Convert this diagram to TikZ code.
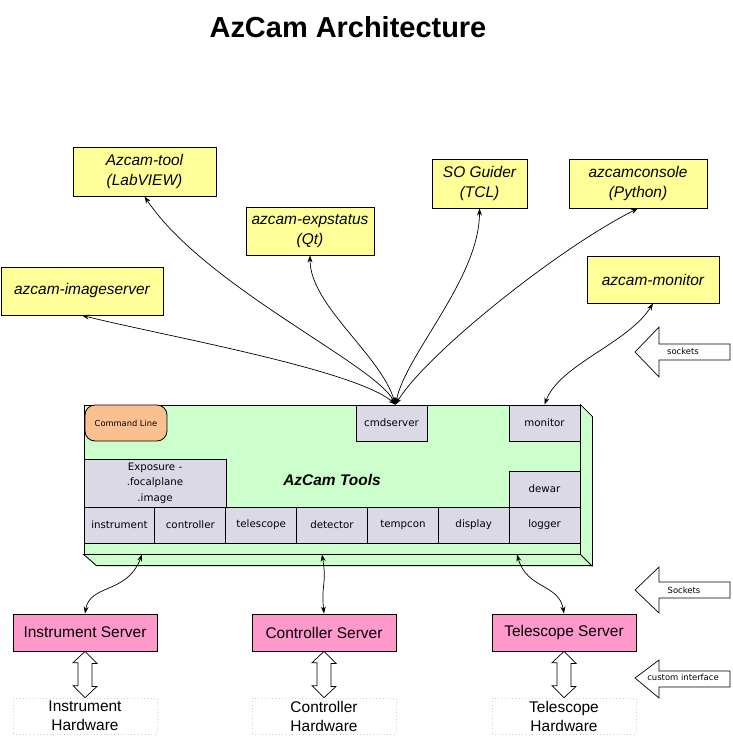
\documentclass[tikz,border=0pt]{standalone}
\usepackage{fontspec}
\setmainfont{Liberation Sans}
\newfontfamily\modfont{DejaVu Sans}
\usetikzlibrary{arrows.meta}
\definecolor{ylw}{RGB}{255,255,153}
\definecolor{tgreen}{RGB}{204,255,204}
\definecolor{pnk}{RGB}{255,153,204}
\definecolor{lav}{RGB}{220,217,230}
\definecolor{org}{RGB}{250,192,144}

\begin{document}
\begin{tikzpicture}[x=0.25mm, y=-0.25mm, >={Stealth[length=5pt,width=3.5pt]},
	ybox/.style={draw, line width=0.6pt, fill=ylw, inner sep=0pt, align=center, font=\itshape\fontsize{11}{14}\selectfont},
	server/.style={draw, line width=0.6pt, fill=pnk, minimum width=36mm, minimum height=9.25mm, font=\fontsize{11}{13}\selectfont},
	hwbox/.style={draw=gray!35, dotted, minimum width=36mm, minimum height=9mm, inner sep=0pt, align=center, font=\fontsize{11}{13.5}\selectfont},
	modbox/.style={draw, line width=0.6pt, fill=lav, minimum width=17.71mm, minimum height=9mm, inner sep=0pt, align=center, font=\modfont\fontsize{7.3}{11}\selectfont},
	link/.style={<->, line width=0.5pt},
	blockarrow/.style={draw, line width=0.5pt, fill=white},
	tag/.style={font=\modfont\fontsize{6}{7}\selectfont}]
	\useasboundingbox (0,0) rectangle (732,743);

	% titre
	\node[font=\bfseries\fontsize{20.6}{24}\selectfont] (title) at (348,27) {AzCam Architecture};

	% les clients
	\node[ybox, minimum width=35.75mm, minimum height=12.25mm] (tool) at (144.5,171.5) {Azcam-tool\\(LabVIEW)};
	\node[ybox, minimum width=32mm, minimum height=12mm] (exp) at (310,231) {azcam-expstatus\\(Qt)};
	\node[ybox, minimum width=40.5mm, minimum height=12mm] (imgsrv) at (82,291) {azcam-imageserver};
	\node[ybox, minimum width=23.75mm, minimum height=12.25mm] (guider) at (479.5,183.5) {SO Guider\\(TCL)};
	\node[ybox, minimum width=34.5mm, minimum height=12.25mm] (console) at (638,183.5) {azcamconsole\\(Python)};
	\node[ybox, minimum width=33mm, minimum height=11.75mm] (mon) at (653,279.5) {azcam-monitor};

	% le bloc AzCam Tools
	\node[draw, line width=0.6pt, fill=tgreen, minimum width=124mm, minimum height=37.25mm, font=\bfseries\itshape\fontsize{11}{13}\selectfont] (tools) at (332,479.5) {AzCam Tools};
	\draw[line width=0.6pt, fill=tgreen] (tools.north east) -- ++(12,12) -- ++(0,149) -- ++(-496,0) -- (tools.south west) -- (tools.south east) -- cycle;
	\draw[line width=0.6pt] (tools.south east) -- ++(12,12);

	\node[draw, line width=0.6pt, fill=org, rounded corners=2.5mm, minimum width=20.5mm, minimum height=9mm, font=\modfont\fontsize{5.9}{7}\selectfont] (cmdline) at (126,423) {Command Line};
	\node[modbox] (cmd) at (391.5,423) {cmdserver};
	\node[modbox] (monitor) at (544.5,423) {monitor};
	\node[modbox] (dewar) at (544.5,489) {dewar};
	\node[modbox, minimum width=35.5mm, minimum height=12mm] (expo) at (155,483) {Exposure -\\.focalplane\\.image};
	\node[modbox] (minst) at (119.4,525) {instrument};
	\node[modbox] (mctl) at (190.3,525) {controller};
	\node[modbox] (mtel) at (261.2,525) {telescope};
	\node[modbox] (mdet) at (332.0,525) {detector};
	\node[modbox] (mtemp) at (402.9,525) {tempcon};
	\node[modbox] (mdisp) at (473.7,525) {display};
	\node[modbox] (mlog) at (544.6,525) {logger};

	% serveurs et materiel
	\node[server] (instsrv) at (85,632.5) {Instrument Server};
	\node[server] (ctlsrv) at (324,632.5) {Controller Server};
	\node[server] (telsrv) at (564,632.5) {Telescope Server};
	\node[hwbox] (insthw) at (85,716) {Instrument\\Hardware};
	\node[hwbox] (ctlhw) at (324,716) {Controller\\Hardware};
	\node[hwbox] (telhw) at (564,716) {Telescope\\Hardware};

	% les sockets
	\coordinate (hub) at ([xshift=1mm]cmd.north);
	\draw[link] (hub) .. controls +(-40,-35) and +(80,20) .. (imgsrv.south);
	\draw[link] (hub) .. controls +(-20,-40) and +(60,90) .. (tool.south);
	\draw[link] (hub) .. controls +(-15,-50) and +(0,50) .. (exp.south);
	\draw[link] (hub) .. controls +(10,-50) and +(0,70) .. (guider.south);
	\draw[link] (hub) .. controls +(30,-50) and +(-80,40) .. (console.south);
	\draw[link] (monitor.north) .. controls +(15,-40) and +(-25,40) .. (mon.south);
	\draw[link] ([xshift=-47.5mm]tools.south) .. controls +(-15,40) and +(5,-30) .. (instsrv.north);
	\draw[link] ([xshift=-2.5mm]tools.south) .. controls +(5,30) and +(-3,-30) .. (ctlsrv.north);
	\draw[link] ([xshift=46.25mm]tools.south) .. controls +(10,35) and +(-5,-30) .. (telsrv.north);

	% interfaces
	\draw[blockarrow] (instsrv.south) -- ++(12,12) -- ++(-5,0) -- ++(0,23) -- ++(5,0) -- (insthw.north) -- ++(-12,-12) -- ++(5,0) -- ++(0,-23) -- ++(-5,0) -- cycle;
	\draw[blockarrow] (ctlsrv.south) -- ++(12,12) -- ++(-5,0) -- ++(0,23) -- ++(5,0) -- (ctlhw.north) -- ++(-12,-12) -- ++(5,0) -- ++(0,-23) -- ++(-5,0) -- cycle;
	\draw[blockarrow] (telsrv.south) -- ++(12,12) -- ++(-5,0) -- ++(0,23) -- ++(5,0) -- (telhw.north) -- ++(-12,-12) -- ++(5,0) -- ++(0,-23) -- ++(-5,0) -- cycle;

	% legende
	\coordinate (sk1) at (635,352);
	\coordinate (sk2) at (635,590);
	\coordinate (sk3) at (635,678);
	\draw[blockarrow] (sk1) -- ++(24,-25) -- ++(0,17) -- ++(71,0) -- ++(0,16) -- ++(-71,0) -- ++(0,17) -- cycle;
	\draw[blockarrow] (sk2) -- ++(24,-23) -- ++(0,15) -- ++(71,0) -- ++(0,16) -- ++(-71,0) -- ++(0,15) -- cycle;
	\draw[blockarrow] (sk3) -- ++(24,-18) -- ++(0,11) -- ++(71,0) -- ++(0,16) -- ++(-71,0) -- ++(0,11) -- cycle;
	\node[tag] (sock1) at (683,351) {sockets};
	\node[tag] (sock2) at (684,590) {Sockets};
	\node[tag] (sock3) at (683,677) {custom interface};

\end{tikzpicture}
\end{document}
